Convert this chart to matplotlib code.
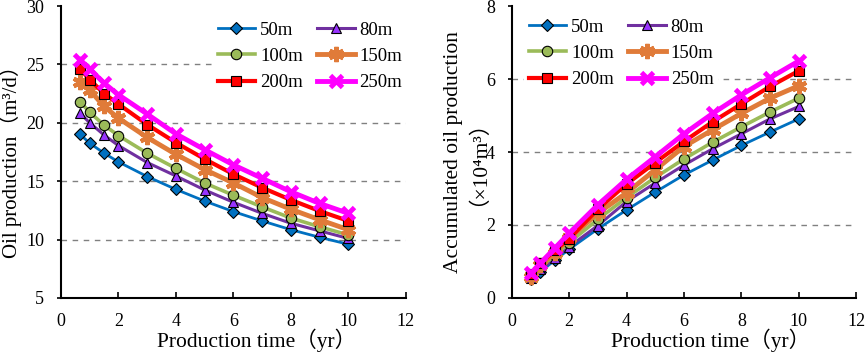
import matplotlib
matplotlib.use("Agg")
import matplotlib.pyplot as plt

plt.rcParams['font.family'] = ['Liberation Serif', 'Noto Sans CJK SC', 'DejaVu Sans']

years = [0.67, 1, 1.5, 2, 3, 4, 5, 6, 7, 8, 9, 10]
labels = ['50m', '80m', '100m', '150m', '200m', '250m']

oil_rate = {
    '50m':  [19.0, 18.25, 17.4, 16.65, 15.4, 14.3, 13.3, 12.4, 11.6, 10.85, 10.2, 9.6],
    '80m':  [20.8, 20.0, 18.95, 18.05, 16.6, 15.45, 14.25, 13.2, 12.25, 11.4, 10.75, 10.1],
    '100m': [21.8, 20.9, 19.8, 18.9, 17.4, 16.1, 14.85, 13.8, 12.8, 11.85, 11.1, 10.4],
    '150m': [23.5, 22.8, 21.4, 20.4, 18.75, 17.3, 16.0, 14.85, 13.6, 12.6, 11.7, 10.85],
    '200m': [24.6, 23.7, 22.5, 21.6, 19.85, 18.3, 16.9, 15.6, 14.45, 13.4, 12.45, 11.6],
    '250m': [25.4, 24.6, 23.4, 22.4, 20.75, 19.05, 17.7, 16.4, 15.25, 14.1, 13.1, 12.25],
}

cum_oil = {
    '50m':  [0.50, 0.71, 1.03, 1.33, 1.89, 2.41, 2.90, 3.37, 3.78, 4.18, 4.55, 4.91],
    '80m':  [0.55, 0.78, 1.08, 1.40, 1.98, 2.64, 3.15, 3.64, 4.09, 4.50, 4.91, 5.25],
    '100m': [0.58, 0.85, 1.16, 1.51, 2.15, 2.75, 3.30, 3.81, 4.27, 4.69, 5.10, 5.48],
    '150m': [0.58, 0.90, 1.22, 1.63, 2.32, 2.88, 3.51, 4.15, 4.61, 5.06, 5.48, 5.82],
    '200m': [0.65, 0.94, 1.30, 1.62, 2.43, 3.12, 3.71, 4.29, 4.83, 5.32, 5.80, 6.23],
    '250m': [0.67, 0.95, 1.36, 1.77, 2.55, 3.25, 3.87, 4.50, 5.06, 5.57, 6.04, 6.50],
}

styles = {
    '50m':  dict(color='#0070C0', marker='D', markerfacecolor='#0070C0', markeredgecolor='black', markersize=6, lw=2.0, mew=0.8),
    '80m':  dict(color='#7030A0', marker='^', markerfacecolor='#9933FF', markeredgecolor='black', markersize=7, lw=2.2, mew=0.8),
    '100m': dict(color='#9BBB59', marker='o', markerfacecolor='#9BBB59', markeredgecolor='black', markersize=7.5, lw=2.6, mew=0.8),
    '150m': dict(color='#E07B39', marker=(6, 2, 0), markerfacecolor='#E07B39', markeredgecolor='#E07B39', markersize=11, lw=3.5, mew=3.0),
    '200m': dict(color='#FF0000', marker='s', markerfacecolor='#FF0000', markeredgecolor='black', markersize=7.5, lw=3.0, mew=0.8),
    '250m': dict(color='#FF00FF', marker='x', markerfacecolor='#FF00FF', markeredgecolor='#FF00FF', markersize=9, lw=3.5, mew=3.5),
}

W, H = 865, 353
fig = plt.figure(figsize=(8.65, 3.53), dpi=100)
ax1 = fig.add_axes([61 / W, 1 - 298 / H, 344.7 / W, 292 / H])
ax2 = fig.add_axes([511.7 / W, 1 - 297.7 / H, 344.6 / W, 291.4 / H])

def style_axis(ax, xlab_x):
    for s in ['top', 'right']:
        ax.spines[s].set_visible(False)
    for s in ['left', 'bottom']:
        ax.spines[s].set_linewidth(1.5)
    ax.tick_params(axis='x', direction='in', length=4, width=1.2, labelsize=13, pad=11)
    ax.tick_params(axis='y', direction='out', length=3, width=1.2, labelsize=13, pad=9)
    ax.set_xlim(0, 12)
    ax.set_xticks(range(0, 13, 2))
    ax.set_xlabel('Production time（yr）', fontsize=15.5)
    ax.xaxis.set_label_coords(xlab_x, -0.105)

def add_legend(ax, x_px, y_px):
    handles, labs = ax.get_legend_handles_labels()
    order = [0, 2, 4, 1, 3, 5]
    leg = ax.legend([handles[i] for i in order], [labs[i] for i in order], ncol=2, loc='upper left',
                    bbox_to_anchor=(x_px / W, 1 - y_px / H), bbox_transform=fig.transFigure,
                    frameon=True, fontsize=13.5, borderaxespad=0,
                    handlelength=2.0, handletextpad=0.27, columnspacing=0.75, labelspacing=0.48,
                    borderpad=0.25, fancybox=False)
    fr = leg.get_frame()
    fr.set_edgecolor('none')
    fr.set_facecolor('white')
    fr.set_alpha(1)
    leg.set_zorder(5)
    return leg

# Left
for lab in labels:
    ax1.plot(years, oil_rate[lab], label=lab, zorder=3, **styles[lab])
ax1.set_ylim(5, 30)
ax1.set_yticks(range(5, 31, 5))
for v in [10, 15, 20, 25]:
    ax1.axhline(v, color='#808080', ls=(0, (4, 4)), lw=1.0, zorder=1)
style_axis(ax1, 0.566)
fig.text(11 / W, 1 - 157 / H, 'Oil production（m³/d）', rotation=90, ha='center', va='center', fontsize=15)
add_legend(ax1, 213, 17)

# Right
for lab in labels:
    ax2.plot(years, cum_oil[lab], label=lab, zorder=3, **styles[lab])
ax2.set_ylim(0, 8)
ax2.set_yticks(range(0, 9, 2))
for v in [2, 4, 6]:
    ax2.axhline(v, color='#808080', ls=(0, (4, 4)), lw=1.0, zorder=1)
style_axis(ax2, 0.578)
fig.text(461 / W, 1 - 152 / H, 'Accumulated oil production\n（×10⁴m³）', rotation=90, ha='center', va='center',
         multialignment='center', fontsize=15.5, linespacing=0.7)
add_legend(ax2, 524, 14)

fig.savefig('out.png', dpi=100)
